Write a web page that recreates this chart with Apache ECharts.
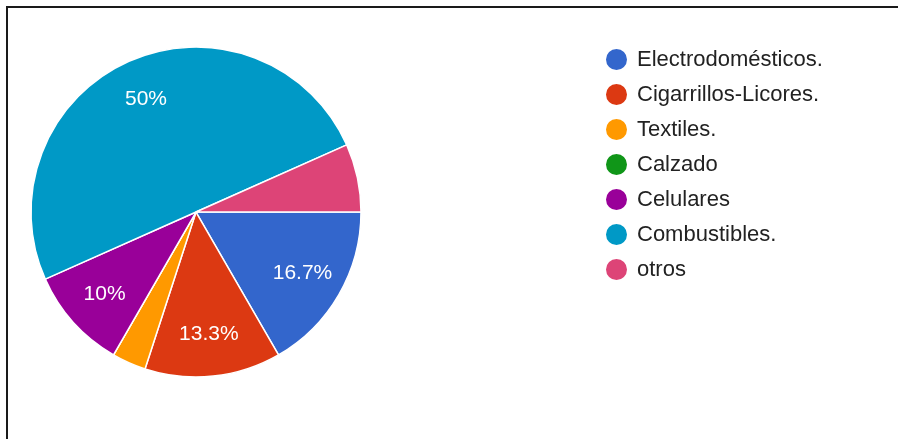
<!DOCTYPE html>
<html>
<head>
<meta charset="utf-8">
<script src="https://cdn.jsdelivr.net/npm/echarts@6/dist/echarts.min.js"></script>
<style>
  html, body { margin: 0; padding: 0; background: #fff; }
  #frame {
    position: absolute; left: 6px; top: 6px; right: 0; bottom: 0;
    border-top: 2px solid #1a1a1a; border-left: 2px solid #1a1a1a;
  }
  #chart { position: absolute; left: 0; top: 0; width: 898px; height: 439px; }
</style>
</head>
<body>
<div id="frame"></div>
<div id="chart"></div>
<script>
// Survey answers (number of responses per category)
const categories = ['Electrodomésticos.', 'Cigarrillos-Licores.', 'Textiles.', 'Calzado', 'Celulares', 'Combustibles.', 'otros'];
const responses = [5, 4, 1, 0, 3, 15, 2];
const palette = ['#3366cc', '#dc3912', '#ff9900', '#109618', '#990099', '#0099c6', '#dd4477'];

const FONT = '"Liberation Sans", Arial, sans-serif';
const pieData = categories.map((name, i) => ({ name, value: responses[i] }));
const center = [196, 212];
const radius = 165;

function pctLabel(p) {
  if (p.percent < 8) return '';
  const s = p.percent.toFixed(1);
  return (s.endsWith('.0') ? s.slice(0, -2) : s) + '%';
}

const chart = echarts.init(document.getElementById('chart'), null, { renderer: 'canvas' });
chart.setOption({
  animation: false,
  color: palette,
  legend: {
    orient: 'vertical',
    left: 599,
    top: 42,
    icon: 'circle',
    itemWidth: 23,
    itemHeight: 23,
    itemGap: 10,
    data: categories,
    textStyle: {
      fontFamily: FONT,
      fontSize: 22,
      color: '#222',
      lineHeight: 23,
      padding: [0, 0, 0, 4]
    }
  },
  series: [
    {
      type: 'pie',
      center: center,
      radius: [0, radius],
      startAngle: 0,
      clockwise: true,
      avoidLabelOverlap: false,
      silent: true,
      data: pieData,
      itemStyle: { borderColor: '#fff', borderWidth: 1.5 },
      label: { show: false },
      labelLine: { show: false },
      emphasis: { disabled: true }
    },
    {
      // transparent ring that only carries the percentage labels
      type: 'pie',
      center: center,
      radius: [90, 150],
      startAngle: 0,
      clockwise: true,
      avoidLabelOverlap: false,
      silent: true,
      data: pieData,
      legendHoverLink: false,
      itemStyle: { color: 'rgba(0,0,0,0)', borderWidth: 0 },
      label: {
        show: true,
        position: 'inside',
        formatter: pctLabel,
        color: '#fff',
        fontFamily: FONT,
        fontSize: 21
      },
      labelLine: { show: false },
      emphasis: { disabled: true }
    }
  ]
});
</script>
</body>
</html>
